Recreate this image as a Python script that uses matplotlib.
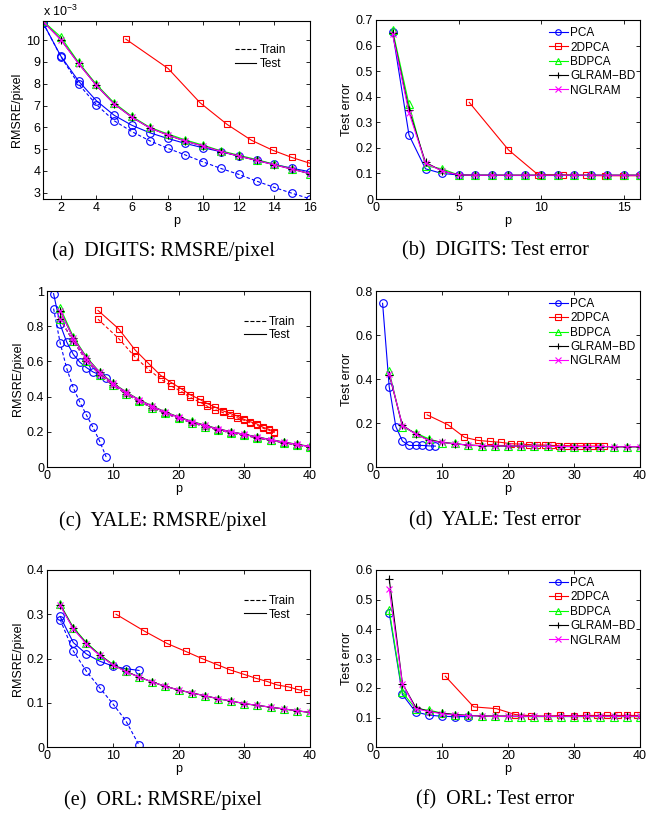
import numpy as np
import matplotlib
matplotlib.use("Agg")
import matplotlib.pyplot as plt
from matplotlib.lines import Line2D
from matplotlib.ticker import FuncFormatter

plt.rcParams['font.family'] = ['Liberation Sans', 'DejaVu Sans']
plt.rcParams['mathtext.default'] = 'regular'

# ---------------- (a) DIGITS RMSRE/pixel  (values in units of 1e-3)
dig_p = list(range(1, 17))
dig_p2d = [5.65, 8.03, 9.82, 11.35, 12.7, 13.9, 14.97, 16.0]
dig_pca_test = [10.8, 9.27, 8.12, 7.22, 6.55, 6.09, 5.75, 5.49, 5.26, 5.06, 4.88, 4.68, 4.5, 4.3, 4.12, 3.96]
dig_pca_train = [10.8, 9.25, 7.98, 7.04, 6.3, 5.8, 5.38, 5.04, 4.73, 4.41, 4.11, 3.84, 3.53, 3.24, 2.97, 2.72]
dig_2d_test = [10.05, 8.7, 7.13, 6.13, 5.41, 4.95, 4.62, 4.35]
dig_bd_test = [10.88, 10.15, 8.98, 7.97, 7.12, 6.5, 6.0, 5.7, 5.42, 5.18, 4.92, 4.72, 4.52, 4.3, 4.1, 3.86]
dig_gl_test = [10.86, 10.03, 8.93, 7.92, 7.07, 6.46, 5.97, 5.65, 5.36, 5.14, 4.89, 4.68, 4.48, 4.28, 4.08, 3.87]
dig_ng_test = [10.86, 10.02, 8.92, 7.92, 7.07, 6.46, 5.97, 5.65, 5.36, 5.14, 4.89, 4.68, 4.48, 4.28, 4.08, 3.87]

# ---------------- (b) DIGITS test error
dig_err_pca = [0.655, 0.25, 0.118, 0.1, 0.094, 0.093, 0.093, 0.092, 0.092, 0.092, 0.092, 0.092, 0.092, 0.092, 0.092, 0.092]
dig_err_2d = [0.378, 0.192, 0.095, 0.094, 0.092, 0.091, 0.091, 0.091]
dig_err_bd = [0.662, 0.37, 0.13, 0.118, 0.094, 0.093, 0.093, 0.093, 0.093, 0.093, 0.093, 0.093, 0.093, 0.093, 0.093, 0.093]
dig_err_gl = [0.65, 0.348, 0.143, 0.11, 0.094, 0.093, 0.093, 0.093, 0.093, 0.093, 0.093, 0.093, 0.093, 0.093, 0.093, 0.093]
dig_err_ng = [0.645, 0.338, 0.14, 0.11, 0.094, 0.093, 0.093, 0.093, 0.093, 0.093, 0.093, 0.093, 0.093, 0.093, 0.093, 0.093]

# ---------------- (c) YALE RMSRE/pixel
yale_p_pca = list(range(1, 10))
yale_p = list(range(2, 41, 2))
yale_p2d = [7.75, 10.9, 13.4, 15.4, 17.3, 18.9, 20.4, 21.8, 23.2, 24.4, 25.6, 26.7, 27.8, 28.9, 30.0, 30.9, 31.9, 32.9, 33.7, 34.6]
yale_pca_test = [0.985, 0.81, 0.71, 0.64, 0.595, 0.565, 0.54, 0.525, 0.508]
yale_pca_train = [0.9, 0.705, 0.56, 0.45, 0.368, 0.295, 0.225, 0.147, 0.057]
yale_2d_test = [0.89, 0.785, 0.665, 0.59, 0.52, 0.48, 0.445, 0.41, 0.385, 0.36, 0.34, 0.32, 0.305, 0.29, 0.27, 0.257, 0.245, 0.225, 0.215, 0.2]
yale_2d_train = [0.84, 0.73, 0.625, 0.555, 0.5, 0.46, 0.43, 0.395, 0.37, 0.345, 0.325, 0.31, 0.295, 0.28, 0.265, 0.25, 0.238, 0.22, 0.21, 0.195]
yale_bd_test = [0.905, 0.74, 0.625, 0.54, 0.478, 0.428, 0.383, 0.347, 0.313, 0.285, 0.26, 0.238, 0.218, 0.2, 0.186, 0.171, 0.156, 0.142, 0.13, 0.117]
yale_gl_test = [0.888, 0.732, 0.62, 0.537, 0.475, 0.425, 0.381, 0.345, 0.311, 0.283, 0.258, 0.236, 0.216, 0.2, 0.185, 0.17, 0.155, 0.141, 0.128, 0.116]
yale_ng_test = [0.888, 0.732, 0.62, 0.537, 0.475, 0.425, 0.381, 0.345, 0.311, 0.283, 0.258, 0.236, 0.216, 0.2, 0.185, 0.17, 0.155, 0.141, 0.128, 0.116]
yale_lr_train = [0.84, 0.715, 0.605, 0.525, 0.466, 0.416, 0.373, 0.337, 0.304, 0.276, 0.252, 0.23, 0.211, 0.194, 0.18, 0.165, 0.151, 0.138, 0.125, 0.113]

# ---------------- (d) YALE test error
yale_err_pca = [0.744, 0.365, 0.184, 0.118, 0.098, 0.098, 0.098, 0.096, 0.095]
yale_err_2d = [0.237, 0.192, 0.135, 0.121, 0.116, 0.112, 0.106, 0.104, 0.102, 0.1, 0.1, 0.098, 0.097, 0.097, 0.096, 0.096, 0.095, 0.095, 0.095, 0.095]
yale_err_bd = [0.435, 0.181, 0.155, 0.128, 0.11, 0.107, 0.098, 0.097, 0.096, 0.095, 0.095, 0.094, 0.094, 0.093, 0.093, 0.093, 0.093, 0.092, 0.092, 0.092]
yale_err_gl = [0.42, 0.19, 0.15, 0.122, 0.113, 0.105, 0.1, 0.097, 0.096, 0.095, 0.095, 0.094, 0.094, 0.093, 0.093, 0.093, 0.093, 0.092, 0.092, 0.092]
yale_err_ng = [0.425, 0.188, 0.15, 0.12, 0.112, 0.105, 0.099, 0.097, 0.096, 0.095, 0.095, 0.094, 0.094, 0.093, 0.093, 0.093, 0.093, 0.092, 0.092, 0.092]

# ---------------- (e) ORL RMSRE/pixel
orl_p_pca = list(range(2, 15, 2))
orl_p = list(range(2, 41, 2))
orl_p2d = [10.5, 14.8, 18.25, 21.1, 23.55, 25.9, 27.9, 30.0, 31.85, 33.5, 35.05, 36.7, 38.1, 39.6]
orl_pca_test = [0.295, 0.236, 0.21, 0.194, 0.183, 0.177, 0.173]
orl_pca_train = [0.288, 0.217, 0.171, 0.134, 0.098, 0.059, 0.004]
orl_2d_test = [0.3, 0.262, 0.234, 0.216, 0.2, 0.186, 0.174, 0.164, 0.155, 0.148, 0.14, 0.136, 0.13, 0.125]
orl_bd_test = [0.323, 0.27, 0.236, 0.209, 0.187, 0.171, 0.158, 0.147, 0.137, 0.129, 0.122, 0.116, 0.109, 0.104, 0.098, 0.094, 0.09, 0.086, 0.082, 0.078]
orl_gl_test = [0.321, 0.268, 0.234, 0.208, 0.186, 0.171, 0.158, 0.147, 0.137, 0.129, 0.122, 0.116, 0.109, 0.104, 0.098, 0.094, 0.09, 0.086, 0.082, 0.078]
orl_ng_test = [0.32, 0.267, 0.233, 0.207, 0.186, 0.17, 0.158, 0.147, 0.137, 0.129, 0.122, 0.116, 0.109, 0.104, 0.098, 0.094, 0.09, 0.086, 0.082, 0.078]

# ---------------- (f) ORL test error
orl_err_pca = [0.455, 0.178, 0.119, 0.108, 0.104, 0.103, 0.103]
orl_err_2d = [0.24, 0.136, 0.13, 0.11, 0.106, 0.104, 0.107, 0.106, 0.107, 0.107, 0.107, 0.107, 0.107, 0.107]
orl_err_bd = [0.464, 0.185, 0.13, 0.125, 0.115, 0.108, 0.107, 0.105, 0.104, 0.103, 0.103, 0.103, 0.103, 0.103, 0.103, 0.103, 0.103, 0.103, 0.103, 0.103]
orl_err_gl = [0.57, 0.215, 0.135, 0.12, 0.115, 0.11, 0.107, 0.105, 0.105, 0.105, 0.104, 0.104, 0.104, 0.104, 0.104, 0.104, 0.104, 0.104, 0.104, 0.104]
orl_err_ng = [0.535, 0.215, 0.13, 0.12, 0.113, 0.108, 0.106, 0.105, 0.104, 0.104, 0.104, 0.104, 0.104, 0.104, 0.104, 0.104, 0.104, 0.104, 0.104, 0.104]

methods = ['PCA', '2DPCA', 'BDPCA', 'GLRAM\u2212BD', 'NGLRAM']
colors = ['#0000ff', '#ff0000', '#00ff00', '#000000', '#ff00ff']
markers = ['o', 's', '^', '+', 'x']
msizes = [5.5, 5, 5.5, 6, 5]

W, H = 664, 814
fig = plt.figure(figsize=(W / 100, H / 100), dpi=100)


def make_ax(x0, x1, y0, y1):
    return fig.add_axes([x0 / W, 1 - y1 / H, (x1 - x0) / W, (y1 - y0) / H])


def style(ax, xlim, ylim, xticks, yticks, ylabel):
    ax.set_xlim(*xlim)
    ax.set_ylim(*ylim)
    ax.set_xticks(xticks)
    ax.set_yticks(yticks)
    ax.xaxis.set_major_formatter(FuncFormatter(lambda v, p: '%g' % round(v, 6)))
    ax.yaxis.set_major_formatter(FuncFormatter(lambda v, p: '%g' % round(v, 6)))
    ax.tick_params(direction='in', length=3, width=0.6, top=True, right=True,
                   labelsize=9, pad=2)
    for s in ax.spines.values():
        s.set_linewidth(0.8)
    ax.set_xlabel('p', fontsize=9, labelpad=1)
    ax.set_ylabel(ylabel, fontsize=9, labelpad=2)


def draw(ax, i, x, y, ls='-'):
    ax.plot(x, y, color=colors[i], ls=ls, lw=0.8, marker=markers[i], ms=msizes[i],
            mfc='none', mec=colors[i], mew=0.8, dashes=(3, 2) if ls == '--' else (None, None))


def tt_legend(ax, x_anchor, y_anchor):
    h = [Line2D([], [], color='k', ls='--', lw=0.8), Line2D([], [], color='k', ls='-', lw=0.8)]
    ax.legend(h, ['Train', 'Test'], loc='upper left', bbox_to_anchor=(x_anchor, y_anchor),
              frameon=False, fontsize=8.5, handlelength=1.8, handletextpad=0.3,
              labelspacing=0.15, borderaxespad=0, borderpad=0)


def m_legend(ax, x_anchor, y_anchor):
    h = [Line2D([], [], color=colors[i], lw=0.8, marker=markers[i], ms=4,
                mfc='none', mew=0.8) for i in range(5)]
    ax.legend(h, methods, loc='upper left', bbox_to_anchor=(x_anchor, y_anchor),
              frameon=False, fontsize=8.5, handlelength=1.6, handletextpad=0.2,
              labelspacing=0.2, borderaxespad=0, borderpad=0)


def caption(x, y, s):
    fig.text(x / W, 1 - y / H, s, ha='center', va='center', fontsize=14.5,
             family=['Liberation Serif', 'DejaVu Serif'])


# (a)
ax = make_ax(43, 310, 21, 199)
draw(ax, 0, dig_p, dig_pca_train, '--')
draw(ax, 0, dig_p, dig_pca_test)
draw(ax, 1, dig_p2d, dig_2d_test)
draw(ax, 2, dig_p, dig_bd_test)
draw(ax, 3, dig_p, dig_gl_test)
draw(ax, 4, dig_p, dig_ng_test)
style(ax, (1, 16), (2.71, 10.88), range(2, 17, 2), range(3, 11), 'RMSRE/pixel')
ax.text(0.0, 1.01, 'x 10$^{-3}$', transform=ax.transAxes, fontsize=9, va='bottom')
tt_legend(ax, 0.72, 0.87)
caption(163, 251, '(a)  DIGITS: RMSRE/pixel')

# (b)
ax = make_ax(376, 640, 20, 199)
draw(ax, 0, dig_p, dig_err_pca)
draw(ax, 1, dig_p2d, dig_err_2d)
draw(ax, 2, dig_p, dig_err_bd)
draw(ax, 3, dig_p, dig_err_gl)
draw(ax, 4, dig_p, dig_err_ng)
style(ax, (0, 16), (0, 0.7), [0, 5, 10, 15], np.arange(0, 0.71, 0.1), 'Test error')
m_legend(ax, 0.655, 0.96)
caption(495, 251, '(b)  DIGITS: Test error')

# (c)
ax = make_ax(47, 310, 291, 467)
draw(ax, 0, yale_p_pca, yale_pca_train, '--')
draw(ax, 0, yale_p_pca, yale_pca_test)
draw(ax, 1, yale_p2d, yale_2d_train, '--')
draw(ax, 1, yale_p2d, yale_2d_test)
for i, yt in zip([2, 3, 4], [yale_bd_test, yale_gl_test, yale_ng_test]):
    draw(ax, i, yale_p, yale_lr_train, '--')
    draw(ax, i, yale_p, yt)
style(ax, (0, 40), (0, 1), [0, 10, 20, 30, 40], np.arange(0, 1.01, 0.2), 'RMSRE/pixel')
tt_legend(ax, 0.75, 0.86)
caption(163, 521, '(c)  YALE: RMSRE/pixel')

# (d)
ax = make_ax(376, 640, 291, 467)
draw(ax, 0, yale_p_pca, yale_err_pca)
draw(ax, 1, yale_p2d, yale_err_2d)
draw(ax, 2, yale_p, yale_err_bd)
draw(ax, 3, yale_p, yale_err_gl)
draw(ax, 4, yale_p, yale_err_ng)
style(ax, (0, 40), (0, 0.8), [0, 10, 20, 30, 40], np.arange(0, 0.81, 0.2), 'Test error')
m_legend(ax, 0.655, 0.96)
caption(495, 521, '(d)  YALE: Test error')

# (e)
ax = make_ax(47, 310, 570, 747)
draw(ax, 0, orl_p_pca, orl_pca_train, '--')
draw(ax, 0, orl_p_pca, orl_pca_test)
draw(ax, 1, orl_p2d, orl_2d_test)
draw(ax, 2, orl_p, orl_bd_test)
draw(ax, 3, orl_p, orl_gl_test)
draw(ax, 4, orl_p, orl_ng_test)
style(ax, (0, 40), (0, 0.4), [0, 10, 20, 30, 40], np.arange(0, 0.41, 0.1), 'RMSRE/pixel')
tt_legend(ax, 0.75, 0.86)
caption(163, 800, '(e)  ORL: RMSRE/pixel')

# (f)
ax = make_ax(376, 640, 570, 747)
draw(ax, 0, orl_p_pca, orl_err_pca)
draw(ax, 1, orl_p2d, orl_err_2d)
draw(ax, 2, orl_p, orl_err_bd)
draw(ax, 3, orl_p, orl_err_gl)
draw(ax, 4, orl_p, orl_err_ng)
style(ax, (0, 40), (0, 0.6), [0, 10, 20, 30, 40], np.arange(0, 0.61, 0.1), 'Test error')
m_legend(ax, 0.655, 0.96)
caption(495, 800, '(f)  ORL: Test error')

fig.savefig('out.png', dpi=100)
